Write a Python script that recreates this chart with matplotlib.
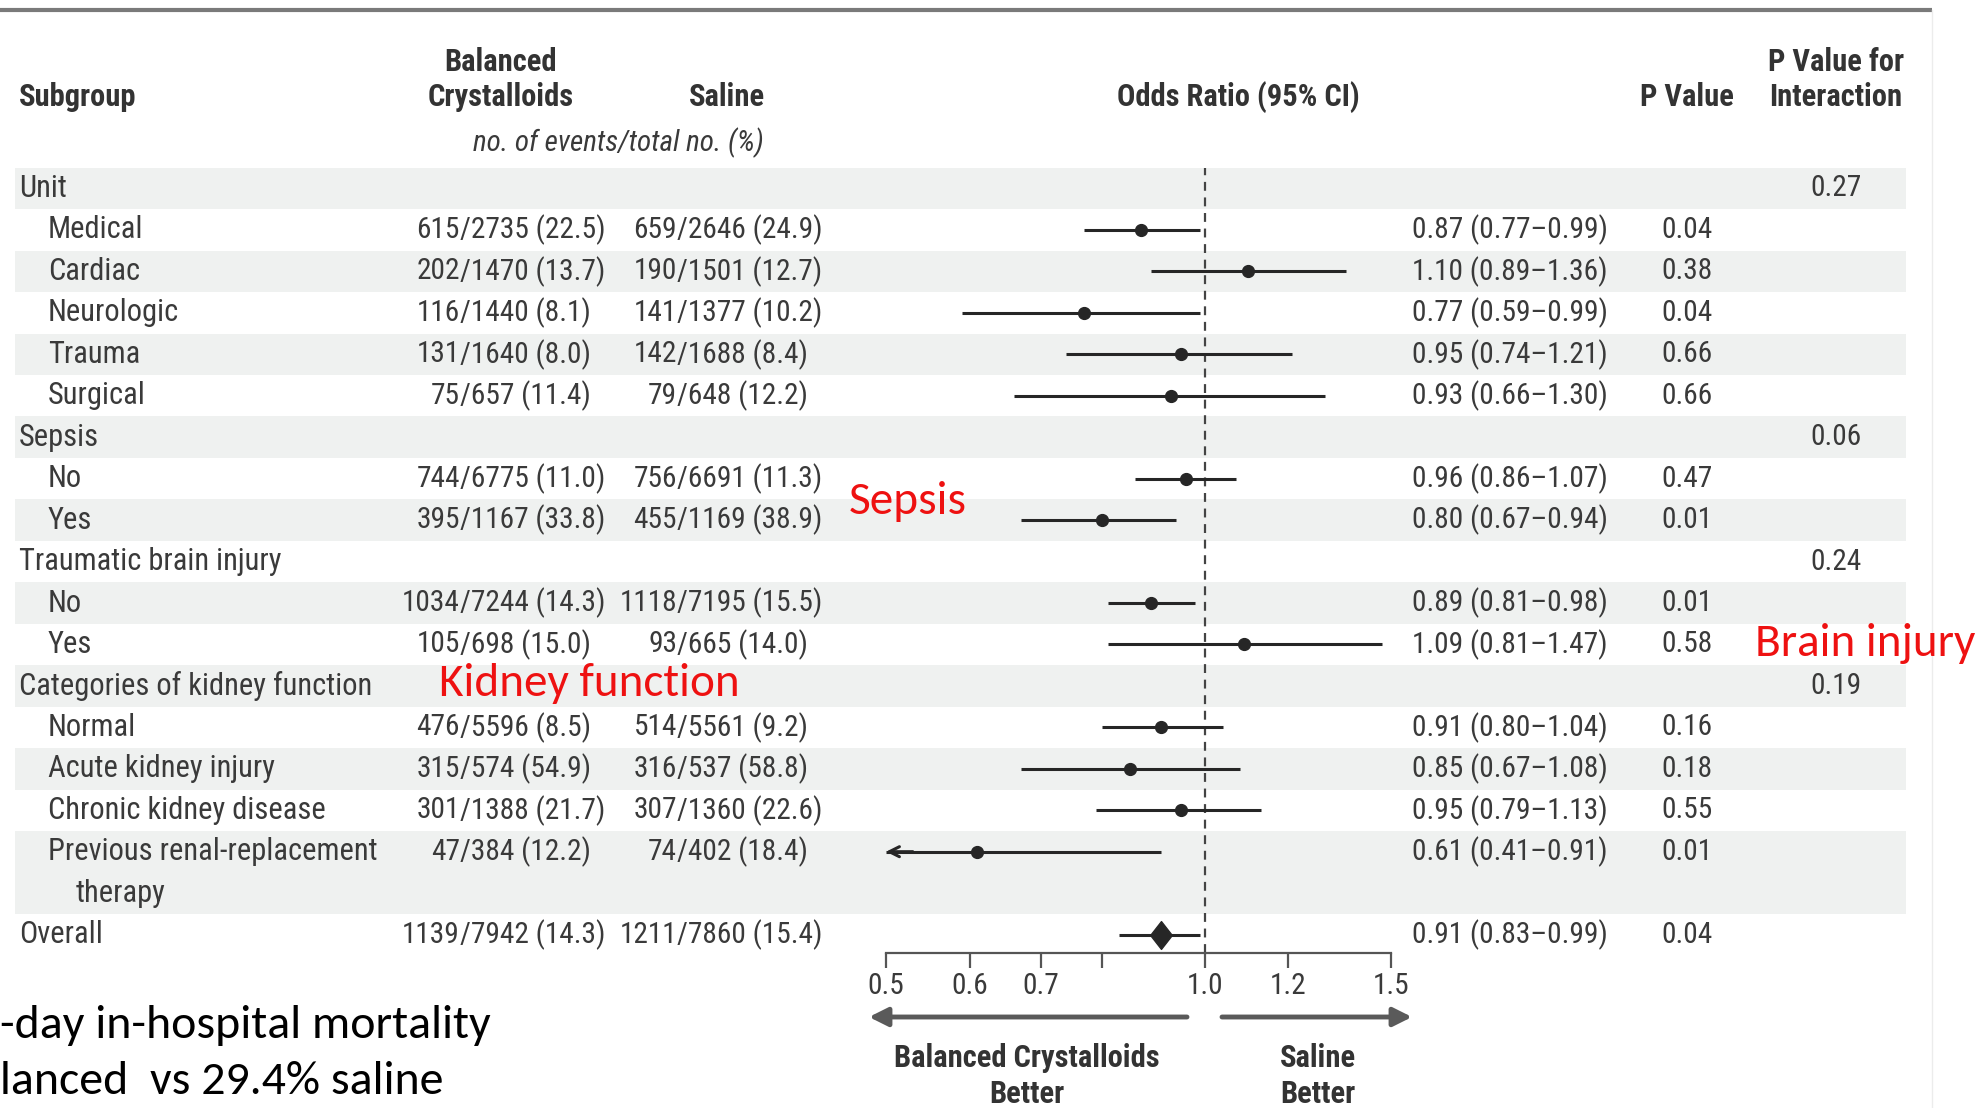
import matplotlib
matplotlib.use('Agg')
import matplotlib.pyplot as plt
import matplotlib.font_manager as fm
from matplotlib.ticker import NullLocator
import numpy as np

# ---- data ----
labels = ['Unit', 'Medical', 'Cardiac', 'Neurologic', 'Trauma', 'Surgical',
          'Sepsis', 'No', 'Yes',
          'Traumatic brain injury', 'No', 'Yes',
          'Categories of kidney function', 'Normal', 'Acute kidney injury',
          'Chronic kidney disease', 'Previous renal-replacement\ntherapy',
          'Overall']
is_group = [True, False, False, False, False, False,
            True, False, False,
            True, False, False,
            True, False, False, False, False,
            True]
bal_events = [None, 615, 202, 116, 131, 75, None, 744, 395, None, 1034, 105, None, 476, 315, 301, 47, 1139]
bal_total = [None, 2735, 1470, 1440, 1640, 657, None, 6775, 1167, None, 7244, 698, None, 5596, 574, 1388, 384, 7942]
bal_pct = [None, 22.5, 13.7, 8.1, 8.0, 11.4, None, 11.0, 33.8, None, 14.3, 15.0, None, 8.5, 54.9, 21.7, 12.2, 14.3]
sal_events = [None, 659, 190, 141, 142, 79, None, 756, 455, None, 1118, 93, None, 514, 316, 307, 74, 1211]
sal_total = [None, 2646, 1501, 1377, 1688, 648, None, 6691, 1169, None, 7195, 665, None, 5561, 537, 1360, 402, 7860]
sal_pct = [None, 24.9, 12.7, 10.2, 8.4, 12.2, None, 11.3, 38.9, None, 15.5, 14.0, None, 9.2, 58.8, 22.6, 18.4, 15.4]
odds = [None, 0.87, 1.10, 0.77, 0.95, 0.93, None, 0.96, 0.80, None, 0.89, 1.09, None, 0.91, 0.85, 0.95, 0.61, 0.91]
ci_lo = [None, 0.77, 0.89, 0.59, 0.74, 0.66, None, 0.86, 0.67, None, 0.81, 0.81, None, 0.80, 0.67, 0.79, 0.41, 0.83]
ci_hi = [None, 0.99, 1.36, 0.99, 1.21, 1.30, None, 1.07, 0.94, None, 0.98, 1.47, None, 1.04, 1.08, 1.13, 0.91, 0.99]
p_val = ['', '0.04', '0.38', '0.04', '0.66', '0.66', '', '0.47', '0.01', '', '0.01', '0.58', '', '0.16', '0.18', '0.55', '0.01', '0.04']
p_inter = ['0.27', '', '', '', '', '', '0.06', '', '', '0.24', '', '', '0.19', '', '', '', '', '']
xticks = [0.5, 0.6, 0.7, 0.8, 1.0, 1.2, 1.5]
xticklabels = ['0.5', '0.6', '0.7', '', '1.0', '1.2', '1.5']

# ---- fonts ----
avail = {f.name for f in fm.fontManager.ttflist}
tfont = next((n for n in ['Liberation Sans Narrow', 'Roboto Condensed', 'Open Sans Condensed'] if n in avail), 'Lato')
cfont = next((n for n in ['Carlito', 'Calibri'] if n in avail), 'Lato')

W, H = 1980, 1108
Y0, DY = 188.5, 41.45          # pixel centre of first row, row pitch
TXT = '#3a3a3a'
SHADE = '#eff1f0'
FS = 22      # labels / headers
FN = 21.2    # numeric columns

def py(r):
    return Y0 + r * DY

fig = plt.figure(figsize=(W / 100, H / 100), dpi=100)
ax0 = fig.add_axes([0, 0, 1, 1])
ax0.set_xlim(0, W)
ax0.set_ylim(H, 0)
ax0.axis('off')

span = [1 + l.count('\n') for l in labels]
top = np.concatenate([[0], np.cumsum(span)[:-1]])

# top rule and faint right border
ax0.plot([0, 1932], [10, 10], color='#7a7a7a', lw=3, solid_capstyle='butt')
ax0.plot([1932, 1932], [10, H], color='#ececec', lw=1)

# alternating row bands
for i, (t, s) in enumerate(zip(top, span)):
    if i % 2 == 0:
        ax0.axhspan(py(t - 0.5), py(t + s - 0.5), xmin=15 / W, xmax=1906 / W, color=SHADE, lw=0, zorder=0)

# headers
hd = dict(fontfamily=tfont, fontsize=FS, fontweight='bold', color='#333333', va='center')
ax0.text(19, 97, 'Subgroup', ha='left', **hd)
ax0.text(501, 62, 'Balanced', ha='center', **hd)
ax0.text(501, 97, 'Crystalloids', ha='center', **hd)
ax0.text(727, 97, 'Saline', ha='center', **hd)
ax0.text(1238, 97, 'Odds Ratio (95% CI)', ha='center', **hd)
ax0.text(1687, 97, 'P Value', ha='center', **hd)
ax0.text(1836, 62, 'P Value for', ha='center', **hd)
ax0.text(1836, 97, 'Interaction', ha='center', **hd)
ax0.text(618, 143, 'no. of events/total no. (%)', ha='center', va='center', fontfamily=tfont,
         fontsize=FS - 1, style='italic', color=TXT)

# table body
tx = dict(fontfamily=tfont, fontsize=FS, color=TXT, va='center')
nx = dict(tx, fontsize=FN)
for i, lab in enumerate(labels):
    y = py(top[i])
    x = 19 if is_group[i] else 48
    for k, line in enumerate(lab.split('\n')):
        ax0.text(x + 28 * (k > 0), py(top[i] + k), line, ha='left', **tx)
    if bal_events[i] is not None:
        ax0.text(460, y, str(bal_events[i]), ha='right', **nx)
        ax0.text(460, y, '/%d (%.1f)' % (bal_total[i], bal_pct[i]), ha='left', **nx)
        ax0.text(677, y, str(sal_events[i]), ha='right', **nx)
        ax0.text(677, y, '/%d (%.1f)' % (sal_total[i], sal_pct[i]), ha='left', **nx)
        ax0.text(1412, y, '%.2f (%.2f\u2013%.2f)' % (odds[i], ci_lo[i], ci_hi[i]), ha='left', **nx)
    if p_val[i]:
        ax0.text(1687, y, p_val[i], ha='center', **nx)
    if p_inter[i]:
        ax0.text(1836, y, p_inter[i], ha='center', **nx)

# ---- forest panel (log scale) ----
XL, XR, YB, YT = 886, 1391, 953, 168
ax = fig.add_axes([XL / W, 1 - YB / H, (XR - XL) / W, (YB - YT) / H])
ax.patch.set_visible(False)
ax.set_xscale('log')
ax.set_xlim(0.5, 1.5)
ax.set_ylim((YB - Y0) / DY, (YT - Y0) / DY)
for s in ['top', 'left', 'right']:
    ax.spines[s].set_visible(False)
ax.spines['bottom'].set_color('#555555')
ax.spines['bottom'].set_linewidth(1.6)
ax.set_yticks([])
ax.set_xticks(xticks)
ax.set_xticklabels(xticklabels)
ax.xaxis.set_minor_locator(NullLocator())
ax.tick_params(axis='x', length=11, width=1.6, color='#555555', pad=3, labelsize=FN, labelcolor=TXT)
for lb in ax.get_xticklabels():
    lb.set_fontfamily(tfont)

ax.axvline(1.0, color='#444444', lw=1.6, ls=(0, (4, 3)), zorder=1)

LC = '#262626'
diamond = [(-0.78, 0), (0, 1), (0.78, 0), (0, -1), (-0.78, 0)]
for i in range(len(labels)):
    if odds[i] is None:
        continue
    y = top[i]
    lo = max(ci_lo[i], 0.5)
    ax.plot([lo, ci_hi[i]], [y, y], color=LC, lw=2.2, solid_capstyle='butt', zorder=3)
    if ci_lo[i] < 0.5:
        ax.annotate('', xy=(0.5, y), xytext=(0.53, y),
                    arrowprops=dict(arrowstyle='->', color=LC, lw=2.2, mutation_scale=18, shrinkA=0, shrinkB=0))
    if labels[i] == 'Overall':
        ax.plot(odds[i], y, marker=diamond, ms=20, color=LC, zorder=4)
    else:
        ax.plot(odds[i], y, 'o', ms=8.5, color=LC, zorder=4)

# direction arrows under the axis
ac = '#5a5a5a'
ax0.annotate('', xy=(869, 1017), xytext=(1187, 1017),
             arrowprops=dict(arrowstyle='-|>', color=ac, lw=3.5, mutation_scale=28, shrinkA=0, shrinkB=0))
ax0.annotate('', xy=(1412, 1017), xytext=(1222, 1017),
             arrowprops=dict(arrowstyle='-|>', color=ac, lw=3.5, mutation_scale=28, shrinkA=0, shrinkB=0))
ax0.text(1027, 1058, 'Balanced Crystalloids', ha='center', **hd)
ax0.text(1027, 1094, 'Better', ha='center', **hd)
ax0.text(1318, 1058, 'Saline', ha='center', **hd)
ax0.text(1318, 1094, 'Better', ha='center', **hd)

# slide annotations
red = dict(fontfamily=cfont, fontsize=34, color='#ee1111', va='center', ha='left')
ax0.text(849, 501, 'Sepsis', **red)
ax0.text(439, 684, 'Kidney function', **red)
ax0.text(1755, 644, 'Brain injury', **red)
blk = dict(fontfamily=cfont, fontsize=34.5, color='black', va='center', ha='left')
ax0.text(0, 1025, '-day in-hospital mortality', **blk)
ax0.text(0, 1082, 'lanced  vs 29.4% saline', **blk)

fig.savefig('out.png', dpi=100)
